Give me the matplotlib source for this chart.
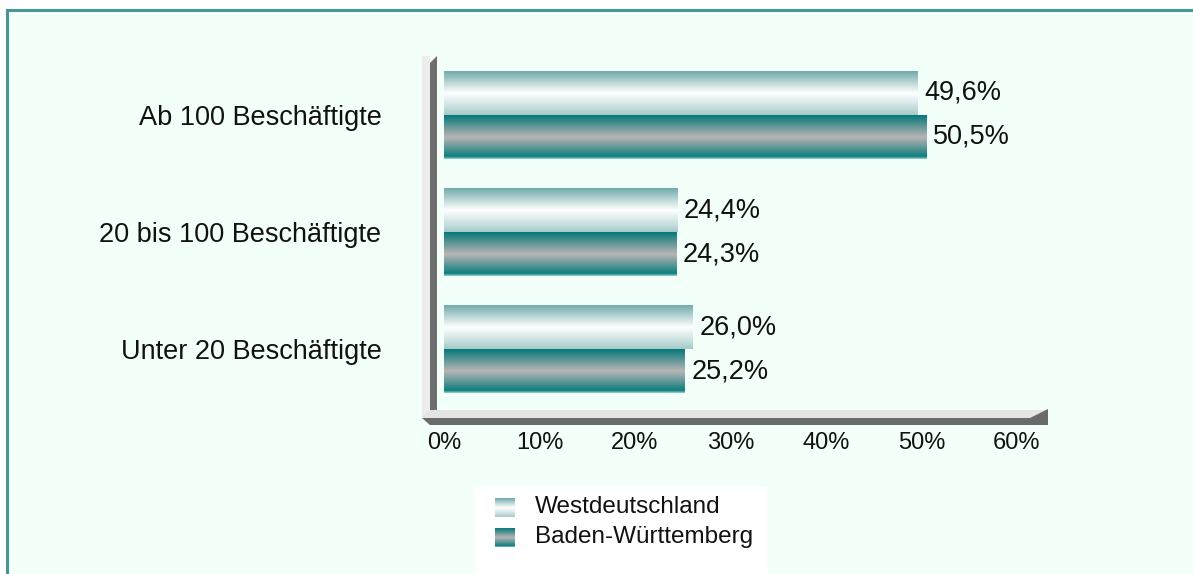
import numpy as np
import matplotlib.pyplot as plt
from matplotlib.colors import LinearSegmentedColormap
from matplotlib.patches import Rectangle, Polygon

# data
categories = ['Unter 20 Beschäftigte', '20 bis 100 Beschäftigte', 'Ab 100 Beschäftigte']
west = [26.0, 24.4, 49.6]
bw = [25.2, 24.3, 50.5]
series_names = ['Westdeutschland', 'Baden-Württemberg']
xticks = [0, 10, 20, 30, 40, 50, 60]

plt.rcParams['font.family'] = ['Liberation Sans', 'DejaVu Sans']

W, H = 1193, 574
fig = plt.figure(figsize=(W / 100, H / 100), dpi=100, facecolor='white')

# gradient colour maps (top -> bottom of each bar)
cm_west = LinearSegmentedColormap.from_list(
    'west', [(0, '#74abab'), (0.5, '#ffffff'), (0.85, '#c4dcdc'), (1, '#a6caca')])
cm_bw = LinearSegmentedColormap.from_list(
    'bw', [(0, '#07797a'), (0.5, '#bab5b5'), (0.95, '#0d7e7d'), (1, '#8fd0cc')])
grad = np.linspace(0, 1, 64).reshape(-1, 1)

# overlay for frame, 3d walls and legend, in pixel coordinates
bg = fig.add_axes([0, 0, 1, 1], zorder=0)
bg.set_xlim(0, W)
bg.set_ylim(H, 0)
bg.axis('off')
bg.add_patch(Rectangle((7, 10), W + 20, H + 20, facecolor='#f3fff9',
                       edgecolor='#4b9494', linewidth=2.2))
# left wall
bg.add_patch(Rectangle((422, 56), 8, 362, facecolor='#ececec', edgecolor='none'))
bg.add_patch(Polygon([(430, 63), (437, 56), (437, 417), (430, 417)],
                     facecolor='#6e6e6e', edgecolor='none'))
# floor
bg.add_patch(Polygon([(422, 418), (430, 410), (1048, 410), (1040, 418)],
                     facecolor='#e4e4e4', edgecolor='none'))
bg.add_patch(Polygon([(422, 418), (1030, 418), (1048, 409), (1048, 425), (430, 425)],
                     facecolor='#6a6a6a', edgecolor='none'))

# legend
bg.add_patch(Rectangle((475, 487), 292, 100, facecolor='white', edgecolor='none'))
for cm, name, y0 in [(cm_west, series_names[0], 498), (cm_bw, series_names[1], 528)]:
    bg.imshow(grad, cmap=cm, aspect='auto', origin='upper', zorder=3,
              extent=(495, 515, y0 + 19, y0), interpolation='bilinear')
    bg.text(535, y0 + 9, name, fontsize=17.5, va='center', ha='left', color='#111111')
bg.set_xlim(0, W)
bg.set_ylim(H, 0)

# main axes
ax = fig.add_axes([444 / W, 1 - 410 / H, 573 / W, 348 / H], zorder=1)
ax.patch.set_alpha(0)
bh = 0.3745
y = np.arange(len(categories))
for i in range(len(categories)):
    ax.imshow(grad, cmap=cm_west, aspect='auto', origin='upper',
              extent=(0, west[i], y[i], y[i] + bh), interpolation='bilinear')
    ax.imshow(grad, cmap=cm_bw, aspect='auto', origin='upper',
              extent=(0, bw[i], y[i] - bh, y[i]), interpolation='bilinear')
    ax.annotate(f'{west[i]:.1f}%'.replace('.', ','), (west[i], y[i] + bh / 2),
                xytext=(5, 0), textcoords='offset points', va='center', ha='left',
                fontsize=19.5, color='#111111')
    ax.annotate(f'{bw[i]:.1f}%'.replace('.', ','), (bw[i], y[i] - bh / 2),
                xytext=(5, 0), textcoords='offset points', va='center', ha='left',
                fontsize=19.5, color='#111111')

ax.set_xlim(0, 60)
ax.set_ylim(-0.515, 2.447)
ax.set_xticks(xticks)
ax.set_xticklabels([f'{t}%' for t in xticks], fontsize=17, color='#111111')
ax.set_yticks(y)
ax.set_yticklabels(categories, fontsize=19.5, color='#111111')
ax.tick_params(axis='both', length=0)
ax.tick_params(axis='x', pad=16)
ax.tick_params(axis='y', pad=45)
for s in ax.spines.values():
    s.set_visible(False)

fig.savefig('out.png', dpi=100)
